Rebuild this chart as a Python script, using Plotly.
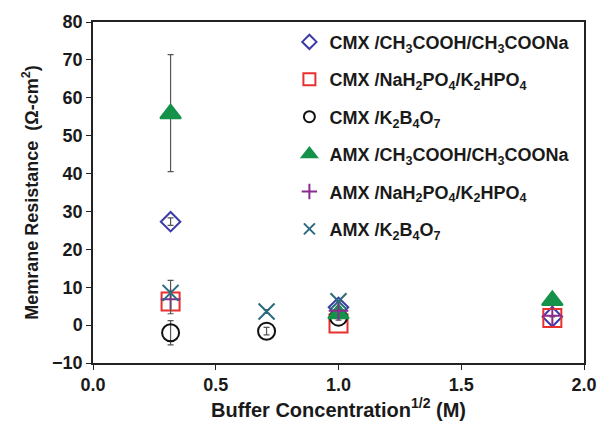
import plotly.graph_objects as go

# Buffer concentration^(1/2) positions (M^0.5)
x_conc = [0.316, 0.707, 1.0, 1.871]

# Series values (ohm-cm^2), None where not measured
cmx_acetate = [27.3, None, 4.7, 2.2]
cmx_acetate_err = [1.0, 0, 0, 0]
cmx_phosphate = [6.2, None, 0.4, 1.9]
cmx_borate = [-2.0, -1.6, 2.1, None]
cmx_borate_err = [3.2, 1.0, 0.8, 0]
amx_acetate = [55.8, None, 3.0, 6.5]
amx_acetate_err_plus = [15.6, 0, 0, 0]
amx_acetate_err_minus = [15.3, 0, 0, 0]
amx_phosphate = [6.8, None, 3.8, 2.5]
amx_borate = [8.5, 3.6, 6.3, None]
amx_borate_err_plus = [3.3, 0.5, 0, 0]
amx_borate_err_minus = [5.5, 0.5, 0, 0]

names = [
    "CMX /CH<sub>3</sub>COOH/CH<sub>3</sub>COONa",
    "CMX /NaH<sub>2</sub>PO<sub>4</sub>/K<sub>2</sub>HPO<sub>4</sub>",
    "CMX /K<sub>2</sub>B<sub>4</sub>O<sub>7</sub>",
    "AMX /CH<sub>3</sub>COOH/CH<sub>3</sub>COONa",
    "AMX /NaH<sub>2</sub>PO<sub>4</sub>/K<sub>2</sub>HPO<sub>4</sub>",
    "AMX /K<sub>2</sub>B<sub>4</sub>O<sub>7</sub>",
]

FONT = "Liberation Sans, Arial, sans-serif"
ERRC = "#555555"

def err(arr, minus=None):
    d = dict(type="data", array=arr, visible=True, color=ERRC, thickness=1.2, width=3)
    if minus is not None:
        d["symmetric"] = False
        d["arrayminus"] = minus
    return d

fig = go.Figure()

series = [
    (cmx_acetate, names[0], "diamond-open", "#3b3ba8", 15, 11, err(cmx_acetate_err)),
    (cmx_phosphate, names[1], "square-open", "#e8312f", 18, 12, None),
    (cmx_borate, names[2], "circle-open", "#111111", 17, 11, err(cmx_borate_err)),
    (amx_acetate, names[3], "triangle-up", "#14924a", 18, 13, err(amx_acetate_err_plus, amx_acetate_err_minus)),
    (amx_phosphate, names[4], "cross-thin-open", "#8b2b8f", 14, 11, None),
    (amx_borate, names[5], "x-thin-open", "#2b6b7e", 16, 11, err(amx_borate_err_plus, amx_borate_err_minus)),
]

for i, (ys, nm, sym, col, sz, lsz, e) in enumerate(series):
    kw = {}
    if e is not None:
        kw["error_y"] = e
    fig.add_trace(go.Scatter(
        x=x_conc, y=ys, name=nm, mode="markers",
        legendgroup=f"g{i}", showlegend=False,
        marker=dict(symbol=sym, size=sz, color=col,
                    line=dict(color=col, width=2)),
        **kw,
    ))
    # legend entry with smaller marker
    fig.add_trace(go.Scatter(
        x=[None], y=[None], name=nm, mode="markers",
        legendgroup=f"g{i}", showlegend=True, hoverinfo="skip",
        marker=dict(symbol=sym, size=lsz, color=col,
                    line=dict(color=col, width=2)),
    ))

fig.update_layout(
    width=609, height=438,
    margin=dict(l=93, r=16, t=18, b=75),
    plot_bgcolor="white", paper_bgcolor="white",
    font=dict(family=FONT, color="#1a1a1a", size=18, weight="bold"),
    showlegend=True,
    legend=dict(
        x=0.40, y=0.995, xanchor="left", yanchor="top",
        bgcolor="rgba(255,255,255,0)", borderwidth=0,
        font=dict(family=FONT, size=18, color="#1a1a1a", weight="bold"),
        tracegroupgap=11, itemsizing="trace",
    ),
    xaxis=dict(
        range=[0, 2.0], tickvals=[0, 0.5, 1.0, 1.5, 2.0],
        ticktext=["0.0", "0.5", "1.0", "1.5", "2.0"],
        showgrid=False, zeroline=False,
        showline=True, linecolor="#222222", linewidth=1.5, mirror=True,
        ticks="outside", ticklen=5, tickcolor="#222222",
        tickfont=dict(size=18, weight="bold"),
        title=dict(text="Buffer Concentration<sup>1/2</sup> (M)", font=dict(size=20, weight="bold"), standoff=4),
    ),
    yaxis=dict(
        range=[-10, 80], tickvals=list(range(-10, 81, 10)),
        showgrid=False, zeroline=False,
        showline=True, linecolor="#222222", linewidth=1.5, mirror=True,
        ticks="outside", ticklen=5, tickcolor="#222222",
        tickfont=dict(size=18, weight="bold"),
        title=dict(text="Memrane Resistance  (\u03a9-cm<sup>2</sup>)", font=dict(size=18, weight="bold"), standoff=9),
    ),
)

fig.write_html("out.html")
